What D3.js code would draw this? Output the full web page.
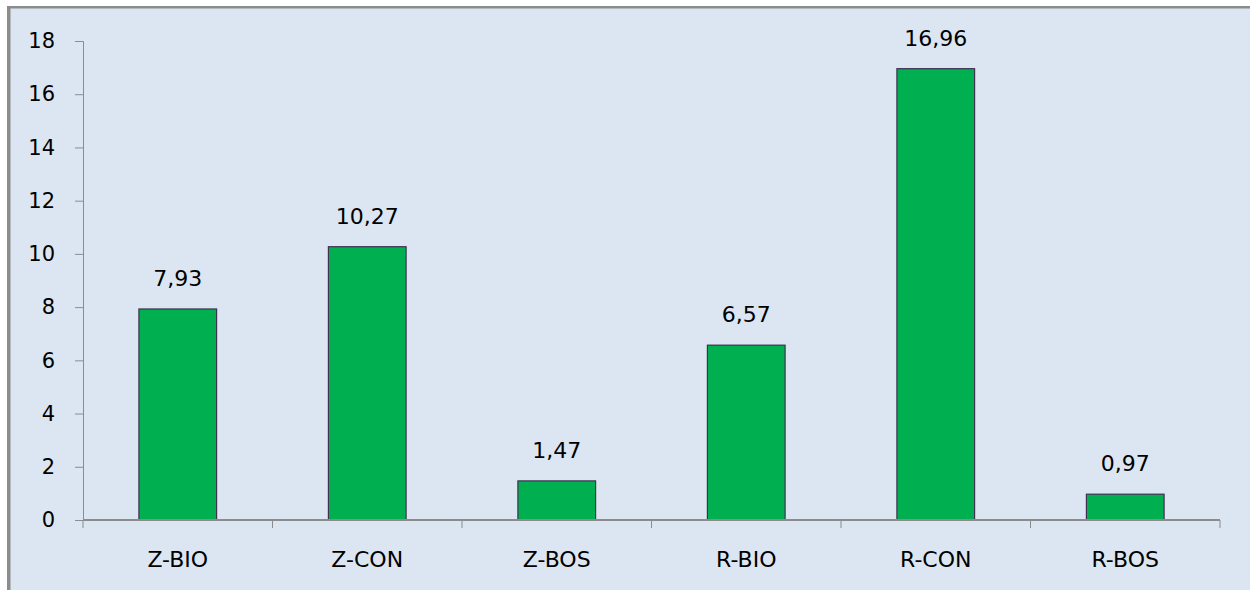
<!DOCTYPE html>
<html>
<head>
<meta charset="utf-8">
<script src="https://cdn.jsdelivr.net/npm/d3@7"></script>
<style>
  html, body { margin: 0; padding: 0; background: #ffffff; }
  svg { display: block; }
</style>
</head>
<body>
<svg id="chart" width="1250" height="590"></svg>
<script>
// Chart data
const categories = ["Z-BIO", "Z-CON", "Z-BOS", "R-BIO", "R-CON", "R-BOS"];
const values = [7.93, 10.27, 1.47, 6.57, 16.96, 0.97];
const yTicks = [0, 2, 4, 6, 8, 10, 12, 14, 16, 18];

const W = 1250, H = 590;
const svg = d3.select("#chart");
const font = "'DejaVu Sans', Verdana, sans-serif";
const fmt = v => v.toFixed(2).replace(".", ",");

// chart area background with frame on the top and left
svg.append("rect").attr("x", 7).attr("y", 6).attr("width", W - 7).attr("height", H - 6)
  .attr("fill", "#dce6f2");
svg.append("rect").attr("x", 7).attr("y", 6).attr("width", W - 7).attr("height", 2.5)
  .attr("fill", "#8c8c8c");
svg.append("rect").attr("x", 7).attr("y", 6).attr("width", 3.5).attr("height", H - 6)
  .attr("fill", "#8c8c8c");

const x = d3.scaleBand().domain(categories).range([83, 1220]).paddingInner(0.59).paddingOuter(0.295);
const xOuter = d3.scaleBand().domain(categories).range([83, 1220]);
const y = d3.scaleLinear().domain([0, 18]).range([520, 41]);

// y axis
const yAxis = svg.append("g").attr("transform", "translate(83,0)")
  .call(d3.axisLeft(y).tickValues(yTicks).tickSize(8).tickPadding(20).tickFormat(d3.format("d")));
yAxis.select(".domain").attr("stroke", "#8c8c8c").attr("stroke-width", 1);
yAxis.selectAll(".tick line").attr("stroke", "#8c8c8c");
yAxis.selectAll("text").attr("font-family", font).attr("font-size", 21).attr("fill", "#000");

// bars
svg.append("g").selectAll("rect").data(values).join("rect")
  .attr("x", (d, i) => x(categories[i]))
  .attr("y", d => y(d))
  .attr("width", x.bandwidth())
  .attr("height", d => y(0) - y(d))
  .attr("fill", "#00b050")
  .attr("stroke", "#3f3151")
  .attr("stroke-width", 1.2);

// x axis with ticks at category boundaries
const bounds = categories.map(c => xOuter(c)).concat([1220]);
svg.append("line").attr("x1", 83).attr("x2", 1220).attr("y1", y(0)).attr("y2", y(0))
  .attr("stroke", "#8c8c8c").attr("stroke-width", 2);
svg.append("g").selectAll("line").data(bounds).join("line")
  .attr("x1", d => d).attr("x2", d => d)
  .attr("y1", y(0)).attr("y2", y(0) + 8)
  .attr("stroke", "#8c8c8c").attr("stroke-width", 1);

// category labels
svg.append("g").selectAll("text").data(categories).join("text")
  .attr("x", d => xOuter(d) + xOuter.bandwidth() / 2)
  .attr("y", 567)
  .attr("text-anchor", "middle")
  .attr("font-family", font).attr("font-size", 22).attr("fill", "#000")
  .text(d => d);

// value labels
svg.append("g").selectAll("text").data(values).join("text")
  .attr("x", (d, i) => x(categories[i]) + x.bandwidth() / 2)
  .attr("y", d => y(d) - 23)
  .attr("text-anchor", "middle")
  .attr("font-family", font).attr("font-size", 22).attr("fill", "#000")
  .text(d => fmt(d));
</script>
</body>
</html>
